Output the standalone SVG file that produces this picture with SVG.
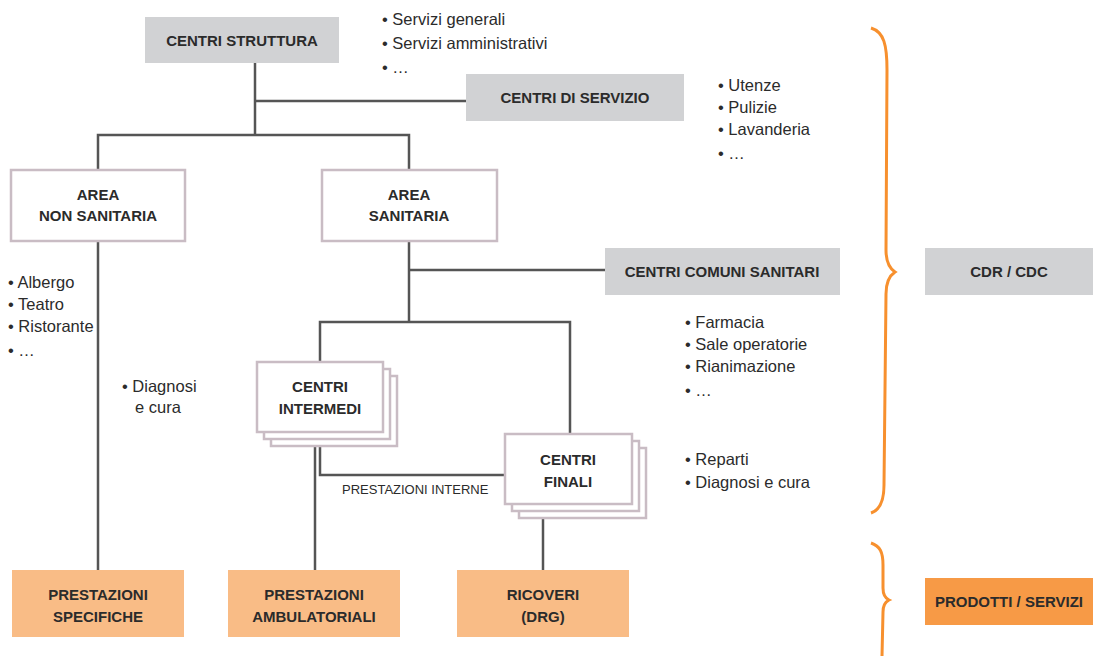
<svg xmlns="http://www.w3.org/2000/svg" width="1093" height="656" viewBox="0 0 1093 656">
  <style>
    .grey { fill: #d1d2d4; }
    .card { fill: #ffffff; stroke: #c9bcc4; stroke-width: 2.5; }
    .out { fill: #f9bc86; }
    .hot { fill: #f79a46; }
    .lbl { font-family: "Liberation Sans Narrow", "Liberation Sans", sans-serif; font-weight: bold; font-size: 15px; fill: #2b2b2b; text-anchor: middle; }
    .note { font-family: "Liberation Sans Narrow", "Liberation Sans", sans-serif; font-size: 16.5px; fill: #2b2b2b; }
    .small { font-family: "Liberation Sans Narrow", "Liberation Sans", sans-serif; font-size: 13px; fill: #2b2b2b; }
    .wire { fill: none; stroke: #555555; stroke-width: 2.5; }
    .brace { fill: none; stroke: #f7902e; stroke-width: 3; stroke-linejoin: miter; }
  </style>

  <!-- connectors -->
  <g id="connectors" class="wire">
    <path d="M255 63 V135"/>
    <path d="M255 101 H466"/>
    <path d="M98 170 V135 H409 V170"/>
    <path d="M98 241 V570"/>
    <path d="M409 241 V322"/>
    <path d="M409 270 H605"/>
    <path d="M320 362 V322 H570 V434"/>
    <path d="M320 446 V475 H505"/>
    <path d="M315 446 V570"/>
    <path d="M543 518 V570"/>
  </g>

  <g id="centri-struttura">
    <rect class="grey" x="145" y="17" width="194" height="46"/>
    <text class="lbl" x="242" y="46">CENTRI STRUTTURA</text>
  </g>
  <g id="note-struttura" class="note">
    <text x="382" y="25">• Servizi generali</text>
    <text x="382" y="49">• Servizi amministrativi</text>
    <text x="382" y="73">• …</text>
  </g>

  <g id="centri-servizio">
    <rect class="grey" x="466" y="74" width="218" height="47"/>
    <text class="lbl" x="575" y="103">CENTRI DI SERVIZIO</text>
  </g>
  <g id="note-servizio" class="note">
    <text x="718" y="91">• Utenze</text>
    <text x="718" y="113">• Pulizie</text>
    <text x="718" y="135">• Lavanderia</text>
    <text x="718" y="159">• …</text>
  </g>

  <g id="area-non-sanitaria">
    <rect class="card" x="11" y="170" width="174" height="71"/>
    <text class="lbl" x="98" y="200">AREA</text>
    <text class="lbl" x="98" y="221">NON SANITARIA</text>
  </g>
  <g id="area-sanitaria">
    <rect class="card" x="322" y="170" width="175" height="71"/>
    <text class="lbl" x="409" y="200">AREA</text>
    <text class="lbl" x="409" y="221">SANITARIA</text>
  </g>

  <g id="note-non-sanitaria" class="note">
    <text x="8" y="288">• Albergo</text>
    <text x="8" y="310">• Teatro</text>
    <text x="8" y="332">• Ristorante</text>
    <text x="8" y="356">• …</text>
  </g>
  <g id="note-diagnosi" class="note">
    <text x="122" y="392">• Diagnosi</text>
    <text x="135" y="413">e cura</text>
  </g>

  <g id="centri-comuni-sanitari">
    <rect class="grey" x="605" y="248" width="235" height="47"/>
    <text class="lbl" x="722" y="277">CENTRI COMUNI SANITARI</text>
  </g>
  <g id="note-comuni" class="note">
    <text x="685" y="328">• Farmacia</text>
    <text x="685" y="350">• Sale operatorie</text>
    <text x="685" y="372">• Rianimazione</text>
    <text x="685" y="396">• …</text>
  </g>

  <g id="centri-intermedi">
    <rect class="card" x="271" y="376" width="126" height="70"/>
    <rect class="card" x="264" y="369" width="126" height="70"/>
    <rect class="card" x="257" y="362" width="126" height="70"/>
    <text class="lbl" x="320" y="392">CENTRI</text>
    <text class="lbl" x="320" y="414">INTERMEDI</text>
  </g>

  <g id="centri-finali">
    <rect class="card" x="519" y="448" width="127" height="70"/>
    <rect class="card" x="512" y="441" width="127" height="70"/>
    <rect class="card" x="505" y="434" width="127" height="70"/>
    <text class="lbl" x="568" y="465">CENTRI</text>
    <text class="lbl" x="568" y="487">FINALI</text>
  </g>
  <text id="prestazioni-interne" class="small" x="342" y="494">PRESTAZIONI INTERNE</text>

  <g id="note-finali" class="note">
    <text x="685" y="465">• Reparti</text>
    <text x="685" y="488">• Diagnosi e cura</text>
  </g>

  <g id="prestazioni-specifiche">
    <rect class="out" x="12" y="570" width="172" height="67"/>
    <text class="lbl" x="98" y="600">PRESTAZIONI</text>
    <text class="lbl" x="98" y="622">SPECIFICHE</text>
  </g>
  <g id="prestazioni-ambulatoriali">
    <rect class="out" x="228" y="570" width="172" height="67"/>
    <text class="lbl" x="314" y="600">PRESTAZIONI</text>
    <text class="lbl" x="314" y="622">AMBULATORIALI</text>
  </g>
  <g id="ricoveri">
    <rect class="out" x="457" y="570" width="172" height="67"/>
    <text class="lbl" x="543" y="600">RICOVERI</text>
    <text class="lbl" x="543" y="622">(DRG)</text>
  </g>

  <!-- braces grouping the levels -->
  <path class="brace" d="M871 28 C884 32 887 45 887 70 L886 250 C886 262 889 268 895 272 C889 276 886 282 886 294 L884 485 C884 500 880 510 871 513"/>
  <path class="brace" d="M871 543 C880 546 883 552 883 565 L883 588 C883 594 885 598 889 600 C885 602 883 606 883 612 L882 656"/>

  <g id="cdr-cdc">
    <rect class="grey" x="925" y="248" width="168" height="47"/>
    <text class="lbl" x="1009" y="277">CDR / CDC</text>
  </g>
  <g id="prodotti-servizi">
    <rect class="hot" x="925" y="578" width="168" height="47"/>
    <text class="lbl" x="1009" y="607">PRODOTTI / SERVIZI</text>
  </g>
</svg>
